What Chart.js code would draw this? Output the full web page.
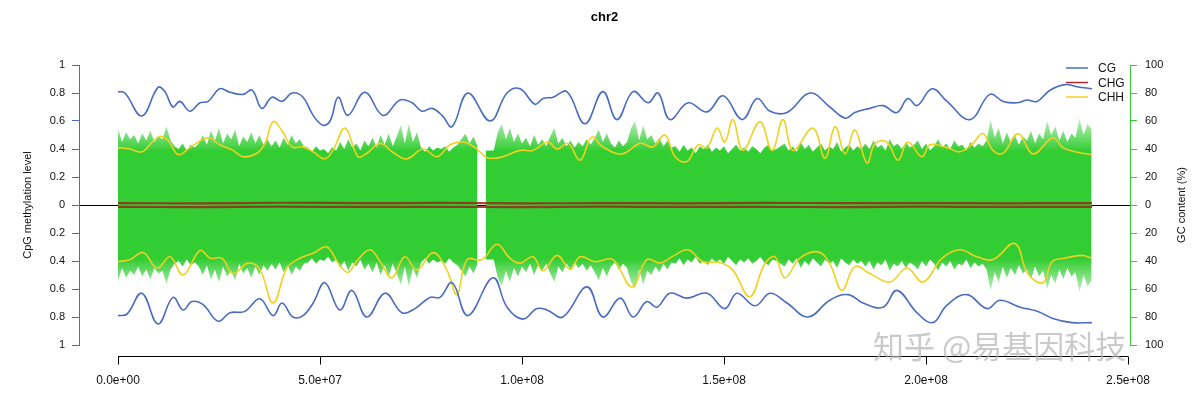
<!DOCTYPE html>
<html>
<head>
<meta charset="utf-8">
<script src="https://cdn.jsdelivr.net/npm/chart.js@4.4.1/dist/chart.umd.min.js"></script>
<style>
html, body { margin: 0; padding: 0; background: #fff; }
#wrap { width: 1201px; height: 393px; }
</style>
</head>
<body>
<div id="wrap"><canvas id="c" width="1201" height="393"></canvas></div>
<script>
// Data (positions in Mb, methylation levels 0-1, GC in %)
const chrName = "chr2";
const seriesNames = ["CG", "CHG", "CHH"];
const xTicks = [0, 50, 100, 150, 200, 250];
const yTicks = [-1, -0.8, -0.6, -0.4, -0.2, 0, 0.2, 0.4, 0.6, 0.8, 1];
const gcTicks = [-100, -80, -60, -40, -20, 0, 20, 40, 60, 80, 100];

// GC content per 1 Mb window, starting at 0 Mb
const gcStart = 0;
const gcStep = 1;
const gcContent = [
    54, 45, 52, 47, 50,                                   // 0-4
    44, 51, 46, 53, 45, 49, 47,                           // 5-11
    56, 46,                                               // 12-13
    42, 40, 44, 39, 43, 41, 44,                           // 14-20
    50, 43, 53, 46, 55, 44, 51, 47, 54, 42, 49, 45, 52, 44, 50, 43, 47, 42, 46, 41, // 21-40
    48, 43, 50, 44, 47, 42,                               // 41-46
    41, 38, 42, 39, 40, 37, 41, 39,                       // 47-54
    45, 40, 47, 41, 44, 39, 46, 42, 48, 41, 50, 43, 51, 42, 49, // 55-69
    57, 44, 58, 45, 52,                                   // 70-74
    41, 38, 42, 39, 41, 40, 42, 38, 41, 43,               // 75-84
    47, 51, 44, 49, 42,                                   // 85-89
    null,                                                 // 90 (gap)
    39, 39, 39,                                           // 91-93
    52, 58, 47, 55, 45, 51, 44,                           // 94-100
    48, 42, 50, 43, 47, 42,                               // 101-106
    49, 55, 44, 48, 42, 46, 41, 45, 42, 47, 43, 48, 54, 45, 51, // 107-121
    44, 41, 46, 42, 45,                                   // 122-126
    55, 60, 46, 57, 47,                                   // 127-131
    50, 44, 48, 42, 46, 41,                               // 132-137
    42, 38, 43, 39, 41, 37, 42, 40, 43, 38, 41, 39, 42, 37, 40, 43, 39, 41, 38, 42, 40, 37, 41, 43, 39, 40, 42, // 138-164
    44, 39, 42, 38, 45, 40, 43, 38, 41, 44, 39, 42, 40, 45, 38, 41, 43, 39, 42, 40, // 165-184
    44, 40, 46, 41, 43, 39, 47, 42, 44, 40, 45, 41, 43, 46, 40, 44, 39, 42, 47, 41, 44, 40, 46, 42, 43, 39, 45, 41, 44, 42, 46, // 185-215
    61, 48, 55, 44, 52, 45, 50, 43, 49, 46, 53, 44, 51, 47, 60, 50, 56, 46, 53, 45, 51, 48, 62, 50, 58, 54 // 216-241
];

// CG methylation, upper strand
const cgTop = [[0,0.81],[1.7,0.80],[5.9,0.636],[9.9,0.84],[11.6,0.81],[13.6,0.70],[15.3,0.74],[17.8,0.67],[20.3,0.73],[22.3,0.74],
    [25.2,0.83],[27.7,0.805],[30.9,0.79],[33.2,0.82],[35.6,0.69],[38.1,0.77],[40.6,0.74],[43.1,0.80],[45.8,0.77],[48.3,0.64],
    [50.7,0.57],[52.5,0.60],[54.5,0.77],[56.9,0.64],[61.1,0.805],[65.6,0.64],[69.8,0.75],[72.8,0.73],[75.2,0.67],[77.7,0.69],
    [80.2,0.64],[82.7,0.56],[86.6,0.80],[92.1,0.60],[96.3,0.80],[99.5,0.83],[103.2,0.72],[105.2,0.76],[107.7,0.77],[111.1,0.81],
    [115.6,0.58],[120.0,0.81],[123.5,0.61],[127.5,0.81],[131.2,0.73],[133.7,0.80],[136.6,0.61],[141.1,0.73],[145.8,0.665],[149.8,0.78],
    [154.5,0.61],[158.2,0.76],[161.4,0.67],[165.6,0.66],[171.3,0.80],[176.2,0.70],[180.0,0.62],[182.4,0.66],[186.1,0.69],[189.4,0.71],
    [192.8,0.66],[195.5,0.76],[197.8,0.71],[201.5,0.83],[205.2,0.74],[210.9,0.61],[215.8,0.79],[219.1,0.74],[222.5,0.73],[225.0,0.75],
    [227.5,0.74],[230.7,0.82],[234.4,0.86],[237.4,0.845],[241.1,0.83]];

// CG methylation, lower strand (drawn mirrored)
const cgBottom = [[0,0.79],[2.2,0.78],[5.9,0.63],[9.9,0.85],[13.6,0.66],[16.1,0.75],[18.3,0.69],[21.0,0.71],[24.8,0.83],[27.7,0.77],
    [31.4,0.76],[35.1,0.67],[38.4,0.79],[40.6,0.70],[43.3,0.80],[45.8,0.79],[48.3,0.70],[51.2,0.555],[54.9,0.75],[57.9,0.61],
    [61.6,0.80],[66.1,0.63],[70.3,0.77],[73.5,0.74],[77.2,0.66],[79.7,0.66],[82.7,0.555],[86.6,0.79],[92.8,0.52],[96.3,0.73],
    [100.2,0.815],[103.7,0.74],[106.2,0.75],[110.1,0.80],[116.1,0.585],[120.0,0.80],[124.3,0.665],[127.5,0.80],[130.9,0.69],[133.4,0.73],
    [136.6,0.63],[140.8,0.665],[145.8,0.63],[150.2,0.74],[153.2,0.63],[157.7,0.72],[161.4,0.63],[165.6,0.70],[170.8,0.80],[176.2,0.68],
    [180.7,0.64],[184.4,0.70],[189.4,0.73],[192.8,0.61],[197.8,0.77],[201.7,0.84],[205.2,0.715],[210.1,0.64],[215.1,0.74],[218.3,0.68],
    [223.3,0.73],[227.7,0.76],[231.4,0.81],[236.1,0.84],[241.1,0.84]];

// CHH methylation, upper strand
const chhTop = [[0,0.41],[3.0,0.40],[5.9,0.38],[9.9,0.485],[12.1,0.47],[14.9,0.36],[17.8,0.41],[22.3,0.48],[25.2,0.43],[28.5,0.39],
    [30.9,0.345],[34.4,0.37],[36.4,0.44],[38.4,0.595],[40.6,0.53],[43.1,0.415],[45.8,0.415],[48.3,0.38],[51.2,0.33],[53.2,0.39],
    [56.2,0.55],[59.4,0.345],[61.6,0.37],[64.9,0.44],[68.1,0.375],[71.5,0.33],[75.5,0.40],[79.0,0.345],[82.2,0.43],[85.4,0.45],
    [88.4,0.41],[91.3,0.34],[94.6,0.34],[99.5,0.39],[102.7,0.39],[106.4,0.45],[108.7,0.40],[111.4,0.44],[114.4,0.32],[117.3,0.485],
    [120.0,0.415],[124.8,0.365],[129.2,0.44],[132.4,0.415],[135.4,0.50],[137.9,0.345],[140.8,0.31],[143.6,0.43],[145.8,0.41],[148.3,0.55],
    [150.2,0.45],[152.2,0.61],[154.7,0.39],[158.9,0.595],[161.9,0.39],[164.6,0.61],[167.1,0.39],[172.0,0.55],[175.0,0.335],[177.5,0.56],
    [180.0,0.365],[182.4,0.535],[185.4,0.30],[187.4,0.44],[190.3,0.45],[193.1,0.32],[195.5,0.45],[199.0,0.345],[201.0,0.43],[205.2,0.41],
    [208.4,0.38],[211.6,0.44],[214.1,0.51],[216.6,0.39],[219.1,0.37],[222.8,0.51],[226.5,0.365],[231.4,0.48],[233.9,0.41],[236.9,0.38],
    [241.1,0.36]];

// CHH methylation, lower strand (drawn mirrored)
const chhBottom = [[0,0.405],[3.0,0.39],[6.2,0.34],[9.7,0.45],[12.9,0.37],[16.1,0.50],[20.3,0.325],[22.8,0.38],[25.7,0.38],[28.5,0.49],
    [32.2,0.415],[35.1,0.46],[38.4,0.70],[41.8,0.45],[45.0,0.38],[48.3,0.345],[51.7,0.30],[54.5,0.415],[56.9,0.48],[59.4,0.39],
    [62.4,0.32],[64.9,0.405],[67.8,0.52],[71.0,0.37],[74.0,0.465],[78.0,0.34],[81.4,0.465],[83.9,0.64],[86.4,0.39],[90.1,0.39],
    [93.8,0.28],[97.0,0.38],[99.5,0.415],[102.7,0.37],[105.2,0.47],[108.7,0.36],[111.9,0.46],[114.4,0.37],[118.1,0.405],[122.5,0.39],
    [127.2,0.585],[130.9,0.39],[134.2,0.415],[137.4,0.365],[141.1,0.32],[144.8,0.405],[149.0,0.41],[152.2,0.465],[156.4,0.655],[160.1,0.42],
    [162.6,0.37],[165.1,0.52],[168.8,0.38],[173.3,0.335],[176.2,0.42],[179.2,0.61],[182.4,0.44],[186.1,0.49],[191.1,0.55],[195.3,0.45],
    [199.3,0.55],[204.0,0.38],[208.4,0.32],[212.6,0.37],[216.6,0.39],[222.0,0.275],[225.2,0.49],[229.0,0.555],[231.2,0.405],[234.4,0.38],
    [238.6,0.36],[241.1,0.38]];

// CHG methylation, both strands (very low)
const chgTop = [[0,0.014],[20,0.012],[40,0.016],[60,0.013],[80,0.015],[100,0.011],[120,0.014],[140,0.012],[160,0.015],[180,0.013],[200,0.014],[220,0.012],[241.1,0.014]];
const chgBottom = [[0,0.013],[20,0.015],[40,0.012],[60,0.014],[80,0.013],[100,0.015],[120,0.012],[140,0.014],[160,0.013],[180,0.015],[200,0.012],[220,0.014],[241.1,0.013]];

// Colours
const colCG = "#4a6cc0";
const colCHG = "#b8282a";
const colCHH = "#f0d020";
const colGC = "rgb(50,205,50)";
const FONT = "'Liberation Sans', Arial, sans-serif";

// Helpers
function pts(pairs, sign) {
    return pairs.map(p => ({ x: p[0], y: sign * p[1] }));
}
function gcPts(sign) {
    return gcContent.map((v, i) => ({ x: gcStart + i * gcStep, y: v == null ? null : sign * v }));
}
function absLabel(v) {
    let s = Math.abs(v).toFixed(1);
    if (s.endsWith(".0")) s = s.slice(0, -2);
    return s;
}
function sciLabel(mb) {
    return (mb * 1e6).toExponential(1).replace(/e([+-])(\d)$/, "e$10$2");
}

function lineSet(label, data, color, width) {
    return {
        label: label, data: data, borderColor: color, borderWidth: width,
        pointRadius: 0, tension: 0.4, fill: false, yAxisID: "y"
    };
}

// Green band: solid core, lighter spike tips
function gcFill(sign) {
    return c => {
        const chart = c.chart;
        if (!chart.chartArea) return colGC;
        const s = chart.scales.y2;
        const g = chart.ctx.createLinearGradient(0, s.getPixelForValue(0), 0, s.getPixelForValue(sign * 62));
        g.addColorStop(0, colGC);
        g.addColorStop(0.62, colGC);
        g.addColorStop(1, "rgba(50,205,50,0.3)");
        return g;
    };
}

// Decorations: x axis line, title, legend, right title, watermark
const decor = {
    id: "decor",
    afterDraw(chart) {
        const ctx = chart.ctx, xs = chart.scales.x, area = chart.chartArea;
        ctx.save();
        // detached x axis
        const yAx = area.bottom + 11.5;
        ctx.strokeStyle = "#000";
        ctx.lineWidth = 1;
        ctx.beginPath();
        ctx.moveTo(xs.getPixelForValue(xTicks[0]), yAx);
        ctx.lineTo(xs.getPixelForValue(xTicks[xTicks.length - 1]), yAx);
        xTicks.forEach(v => {
            const px = Math.round(xs.getPixelForValue(v)) + 0.5;
            ctx.moveTo(px, yAx);
            ctx.lineTo(px, yAx + 8);
        });
        ctx.stroke();

        // title
        ctx.fillStyle = "#000";
        ctx.font = "bold 13px " + FONT;
        ctx.textAlign = "center";
        ctx.textBaseline = "middle";
        ctx.fillText(chrName, (area.left + area.right) / 2, 17);

        // legend
        const cols = [colCG, colCHG, colCHH];
        const ly = [68, 82.5, 97];
        ctx.font = "12px " + FONT;
        ctx.textAlign = "left";
        seriesNames.forEach((n, i) => {
            ctx.strokeStyle = cols[i];
            ctx.lineWidth = 1.5;
            ctx.beginPath();
            ctx.moveTo(1066, ly[i]);
            ctx.lineTo(1088, ly[i]);
            ctx.stroke();
            ctx.fillStyle = "#111";
            ctx.fillText(n, 1098, ly[i] + 1);
        });

        // right axis title, reading bottom to top
        ctx.save();
        ctx.translate(1182, (area.top + area.bottom) / 2);
        ctx.rotate(-Math.PI / 2);
        ctx.font = "11px " + FONT;
        ctx.textAlign = "center";
        ctx.fillStyle = "#111";
        ctx.fillText("GC content (%)", 0, 0);
        ctx.restore();

        // watermark
        ctx.font = "31px 'Noto Sans CJK SC'";
        ctx.textAlign = "left";
        ctx.textBaseline = "middle";
        ctx.fillStyle = "rgba(180,180,180,0.7)";
        ctx.fillText("知乎 @易基因科技", 873, 346);
        ctx.restore();
    }
};

new Chart(document.getElementById("c"), {
    type: "line",
    data: {
        datasets: [
            lineSet("CHG", pts(chgTop, 1), "rgba(150,40,25,0.85)", 2.2),
            lineSet("CHG-", pts(chgBottom, -1), "rgba(150,40,25,0.85)", 2.2),
            lineSet("CG", pts(cgTop, 1), colCG, 1.6),
            lineSet("CG-", pts(cgBottom, -1), colCG, 1.6),
            lineSet("CHH", pts(chhTop, 1), colCHH, 1.6),
            lineSet("CHH-", pts(chhBottom, -1), colCHH, 1.6),
            { label: "GC", data: gcPts(1), yAxisID: "y2", borderWidth: 0,
              backgroundColor: gcFill(1), fill: "origin", pointRadius: 0, tension: 0 },
            { label: "GC-", data: gcPts(-1), yAxisID: "y2", borderWidth: 0,
              backgroundColor: gcFill(-1), fill: "origin", pointRadius: 0, tension: 0 }
        ]
    },
    options: {
        responsive: false,
        animation: false,
        devicePixelRatio: 1,
        layout: { padding: { top: 65, left: 0, right: 0, bottom: 0 } },
        plugins: { legend: { display: false }, tooltip: { enabled: false }, title: { display: false } },
        scales: {
            x: {
                type: "linear",
                min: -9.653,
                max: 250.5,
                afterBuildTicks: s => { s.ticks = xTicks.map(v => ({ value: v })); },
                afterFit: s => { s.height = 48; },
                border: { display: false },
                grid: { display: false, drawTicks: false },
                ticks: {
                    autoSkip: false, maxRotation: 0, padding: 28,
                    color: "#111", font: { family: FONT, size: 12 },
                    callback: v => sciLabel(v)
                }
            },
            y: {
                position: "left",
                min: -1, max: 1,
                afterBuildTicks: s => { s.ticks = yTicks.map(v => ({ value: v })); },
                afterFit: s => { s.width = 79; },
                border: { display: true, color: colCG, width: 1 },
                grid: {
                    drawOnChartArea: true, drawTicks: true, tickLength: 7,
                    color: c => (c.tick && c.tick.value === 0 ? "#000" : "rgba(0,0,0,0)"),
                    tickColor: colCG, lineWidth: 1
                },
                ticks: { padding: 7, color: "#111", font: { family: FONT, size: 11 }, callback: v => absLabel(v) },
                title: { display: true, text: "CpG methylation level", color: "#111",
                         font: { family: FONT, size: 11 }, padding: { top: 21, bottom: 0 } }
            },
            y2: {
                position: "right",
                min: -100, max: 100,
                afterBuildTicks: s => { s.ticks = gcTicks.map(v => ({ value: v })); },
                afterFit: s => { s.width = 71; },
                border: { display: true, color: colGC, width: 1 },
                grid: { drawOnChartArea: false, drawTicks: true, tickLength: 7, tickColor: colGC },
                ticks: { padding: 8, color: "#111", font: { family: FONT, size: 11 }, callback: v => String(Math.abs(v)) }
            }
        }
    },
    plugins: [decor]
});
</script>
</body>
</html>
